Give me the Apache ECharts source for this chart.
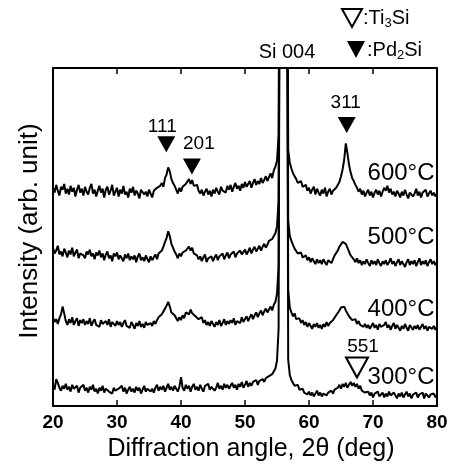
<!DOCTYPE html>
<html><head><meta charset="utf-8">
<script src="https://cdn.jsdelivr.net/npm/echarts@6/dist/echarts.min.js"></script>
<style>html,body{margin:0;padding:0;background:#fff}#c{width:454px;height:467px}</style>
</head><body><div id="c"></div>
<script>
// diffraction angle (deg)
const angle = [
20,20.25,20.5,20.75,21,21.25,21.5,21.75,22,22.25,
22.5,22.75,23,23.25,23.5,23.75,24,24.25,24.5,24.75,
25,25.25,25.5,25.75,26,26.25,26.5,26.75,27,27.25,
27.5,27.75,28,28.25,28.5,28.75,29,29.25,29.5,29.75,
30,30.25,30.5,30.75,31,31.25,31.5,31.75,32,32.25,
32.5,32.75,33,33.25,33.5,33.75,34,34.25,34.5,34.75,
35,35.25,35.5,35.75,36,36.25,36.5,36.75,37,37.25,
37.5,37.75,38,38.25,38.5,38.75,39,39.25,39.5,39.75,
40,40.25,40.5,40.75,41,41.25,41.5,41.75,42,42.25,
42.5,42.75,43,43.25,43.5,43.75,44,44.25,44.5,44.75,
45,45.25,45.5,45.75,46,46.25,46.5,46.75,47,47.25,
47.5,47.75,48,48.25,48.5,48.75,49,49.25,49.5,49.75,
50,50.25,50.5,50.75,51,51.25,51.5,51.75,52,52.25,
52.5,52.75,53,53.25,53.5,53.75,54,54.25,54.5,54.75,
55,
55.25,55.5,56,56.5,56.75,
57,57.25,57.5,57.75,58,58.25,58.5,58.75,59,59.25,
59.5,59.75,60,60.25,60.5,60.75,61,61.25,61.5,61.75,
62,62.25,62.5,62.75,63,63.25,63.5,63.75,64,64.25,
64.5,64.75,65,65.25,65.5,65.75,66,66.25,66.5,66.75,
67,67.25,67.5,67.75,68,68.25,68.5,68.75,69,69.25,
69.5,69.75,70,70.25,70.5,70.75,71,71.25,71.5,71.75,
72,72.25,72.5,72.75,73,73.25,73.5,73.75,74,74.25,
74.5,74.75,75,75.25,75.5,75.75,76,76.25,76.5,76.75,
77,77.25,77.5,77.75,78,78.25,78.5,78.75,79,79.25,
79.5,79.75,80];
// intensities (arb. unit, vertically offset traces)
const int600 = [
226,221,229,223,218,227,224,230,220,225,
219,228,222,226,217,224,229,221,225,218,
227,222,219,226,230,220,224,217,223,228,
221,225,216,224,227,219,223,229,218,222,
226,217,224,220,228,219,222,216,225,221,
227,218,223,220,215,224,226,219,222,217,
224,220,216,223,221,226,224,228,231,227,
236,240,247,243,235,231,228,224,220,226,
222,227,225,230,232,235,230,234,228,226,
229,223,220,224,218,222,225,219,223,217,
224,220,226,222,219,227,223,225,221,228,
224,229,222,227,231,225,228,223,230,226,
232,227,229,233,226,231,235,229,233,230,
236,231,234,238,233,237,241,236,244,248,
254,
280,700,1000,700,265,
252,246,241,238,235,231,229,233,227,225,
229,223,226,220,224,227,219,225,221,218,
224,220,226,217,222,225,219,223,221,226,
228,232,238,245,255,272,262,250,242,236,
233,229,226,222,225,219,223,217,221,224,
218,222,216,221,224,219,223,217,222,226,
223,228,221,225,219,222,217,223,220,216,
222,218,224,219,215,221,223,217,220,225,
218,222,216,221,219,224,217,220,223,218,
221,217,220];
const int500 = [
164,158,161,166,157,160,155,163,159,154,
161,157,164,155,159,162,153,158,160,156,
153,160,157,162,155,158,152,159,156,161,
154,158,151,157,160,153,156,150,158,155,
159,152,156,154,150,157,153,158,151,155,
152,156,149,155,158,151,154,150,156,152,
149,155,151,154,157,152,158,156,161,165,
170,174,181,176,168,164,160,157,153,158,
155,159,157,161,163,165,161,164,158,160,
156,152,155,150,154,157,149,153,151,155,
150,154,157,151,155,153,158,152,156,159,
153,157,155,160,154,158,156,161,157,159,
162,157,160,164,158,162,165,160,163,166,
161,165,168,164,167,171,169,173,176,179,
186,
212,700,1000,700,192,
176,171,167,163,161,158,156,159,154,152,
156,151,154,149,153,150,147,152,148,151,
147,152,149,146,151,153,148,152,156,158,
161,165,167,170,172,168,164,160,156,154,
152,149,153,148,151,146,150,147,152,148,
145,151,147,150,146,152,148,145,150,147,
151,146,149,153,147,150,145,149,152,146,
150,147,144,149,152,146,150,147,151,145,
149,153,146,150,147,151,145,149,152,147,
150,146,149];
const int400 = [
92,87,90,85,91,95,103,96,88,84,
90,86,92,84,88,91,83,89,86,90,
84,88,85,91,83,87,90,84,86,82,
89,85,83,88,84,90,82,87,85,83,
88,84,87,82,86,89,83,85,81,87,
84,80,86,83,88,82,85,81,87,84,
82,86,83,88,85,89,92,90,95,98,
101,104,108,103,97,99,94,91,88,92,
89,94,91,97,99,95,100,96,98,93,
95,90,88,92,86,89,84,87,83,88,
85,82,87,84,89,83,86,90,84,88,
85,89,86,91,84,88,90,86,92,87,
89,93,88,92,95,90,94,97,92,96,
99,94,98,101,97,100,103,99,105,108,
116,
145,700,1000,700,120,
102,97,93,96,90,88,91,86,89,84,
87,82,86,83,80,85,82,86,81,84,
80,85,82,87,83,86,84,89,91,94,
96,99,102,104,103,99,96,93,91,89,
87,90,85,88,84,86,82,85,81,84,
80,83,86,81,84,79,85,82,80,84,
87,81,84,79,83,86,80,84,81,78,
83,80,85,81,78,84,82,79,83,80,
84,79,82,85,80,83,78,82,84,80,
83,79,82];
const int300 = [
22,17,28,24,19,16,21,18,23,17,
20,15,22,18,16,21,14,19,17,22,
16,19,14,20,17,22,15,18,13,19,
16,21,14,18,20,15,17,13,19,16,
14,18,16,21,15,19,13,17,20,15,
18,14,20,16,19,13,17,21,15,18,
20,15,18,14,19,22,16,20,17,21,
15,19,23,17,20,16,21,18,15,20,
30,19,16,22,18,21,15,20,23,17,
20,16,22,18,15,21,19,23,17,20,
22,16,19,24,18,21,17,23,19,22,
18,21,24,19,22,17,23,20,25,19,
22,26,20,24,21,25,23,27,22,26,
24,28,25,29,27,31,29,33,35,39,
47,
80,700,1000,700,48,
32,27,24,21,19,22,17,15,18,14,
16,12,15,11,14,10,13,16,11,14,
10,13,15,11,14,12,16,13,17,15,
19,22,18,23,20,24,19,22,25,21,
24,20,23,18,21,16,18,14,12,15,
11,14,9,13,11,15,10,12,14,9,
13,10,15,11,9,14,12,8,13,10,
14,9,12,15,10,13,8,12,11,14,
9,12,10,14,8,13,11,9,12,10,
13,9,12];
const tempLabels = ['600°C','500°C','400°C','300°C'];
const tempLabelY = [241,175,100,30];
const peakHkl = ['111','201','311','551'];
const peakAngle = [37.7,41.7,65.9,67.5];
const peakMarkY = [271,248,291,40];
const peakPhase = ['Pd2Si','Pd2Si','Pd2Si','Ti3Si'];
const xTicks = [20,30,40,50,60,70,80];

const FONT = '"Liberation Sans", Arial, Helvetica, sans-serif';
const chart = echarts.init(document.getElementById('c'), null, {renderer:'canvas'});
const mk = arr => angle.map((x,i)=>[x, arr[i]]);
const lineS = arr => ({type:'line', data:mk(arr), showSymbol:false, symbol:'none',
  lineStyle:{color:'#000', width:2}, clip:true, animation:false, z:2});
const labelOffsets = [[-4,0],[7,0],[-1,0],[6,0]];
const labelDist = [0,5,5,0];
const peakData = peakAngle.map((x,i)=>{
  const open = peakPhase[i]==='Ti3Si';
  return {value:[x, peakMarkY[i]],
    symbolSize: open?[22,20]:[18,16],
    itemStyle: open?{color:'#fff', borderColor:'#000', borderWidth:2, opacity:1}:{color:'#000', opacity:1},
    label:{show:true, formatter:peakHkl[i], position:'top', distance:labelDist[i], offset:labelOffsets[i],
      color:'#000', opacity:1, fontSize:19, fontFamily:FONT}};
});
const tempData = tempLabels.map((t,i)=>({value:[80, tempLabelY[i]],
  label:{show:true, formatter:t, position:'left', distance:2, color:'#000', opacity:1, fontSize:24, fontFamily:FONT}}));

chart.setOption({
  animation:false,
  backgroundColor:'#fff',
  grid:{left:53, right:17, top:68, bottom:49, containLabel:false},
  xAxis:[{type:'value', min:20, max:80, interval:10, position:'bottom',
    axisLine:{show:true, onZero:false, lineStyle:{color:'#000', width:2}},
    axisTick:{show:true, inside:true, length:6, lineStyle:{color:'#000', width:1.5}},
    axisLabel:{show:true, color:'#000', fontSize:19, fontWeight:'bold', fontFamily:FONT, margin:7,
      formatter:v=>xTicks.includes(v)?String(v):''},
    splitLine:{show:false},
    name:'Diffraction angle, 2θ (deg)', nameLocation:'middle', nameGap:14,
    nameTextStyle:{color:'#000', fontSize:25, fontFamily:FONT, padding:[0,0,0,12]}},
   {type:'value', min:20, max:80, interval:10, position:'top',
    axisLine:{show:true, onZero:false, lineStyle:{color:'#000', width:2}},
    axisTick:{show:true, inside:true, length:6, lineStyle:{color:'#000', width:1.5}},
    axisLabel:{show:false}, splitLine:{show:false}}],
  yAxis:[{type:'value', min:0, max:350, position:'left',
    axisLine:{show:true, onZero:false, lineStyle:{color:'#000', width:2}},
    axisTick:{show:false}, axisLabel:{show:false}, splitLine:{show:false}},
   {type:'value', min:0, max:350, position:'right',
    axisLine:{show:true, onZero:false, lineStyle:{color:'#000', width:2}},
    axisTick:{show:false}, axisLabel:{show:false}, splitLine:{show:false}}],
  series:[lineS(int600), lineS(int500), lineS(int400), lineS(int300),
    {type:'scatter', symbol:'triangle', symbolRotate:180, data:peakData, z:5, clip:false,
      itemStyle:{opacity:1}, emphasis:{disabled:true}},
    {type:'scatter', symbolSize:1, data:tempData, z:5, clip:false,
      itemStyle:{color:'rgba(0,0,0,0)'}, emphasis:{disabled:true}}],
  graphic:[
    {type:'text', x:30, y:231, rotation:Math.PI/2,
      style:{text:'Intensity (arb. unit)', fill:'#000', font:'26px '+FONT, textAlign:'center', textVerticalAlign:'middle'}},
    {type:'text', x:287, y:52,
      style:{text:'Si 004', fill:'#000', font:'20px '+FONT, textAlign:'center', textVerticalAlign:'middle'}},
    {type:'polygon', shape:{points:[[342,9],[362,9],[352,27]]}, style:{fill:'#fff', stroke:'#000', lineWidth:2}},
    {type:'polygon', shape:{points:[[347,41],[365,41],[356,58]]}, style:{fill:'#000'}},
    {type:'text', x:363, y:18,
      style:{text:'{n|:Ti}{s|3}{n|Si}', textVerticalAlign:'middle', textAlign:'left',
        rich:{n:{fontSize:20, fontFamily:FONT, fill:'#000', lineHeight:24},
              s:{fontSize:13, fontFamily:FONT, fill:'#000', lineHeight:13, verticalAlign:'bottom'}}}},
    {type:'text', x:367, y:50,
      style:{text:'{n|:Pd}{s|2}{n|Si}', textVerticalAlign:'middle', textAlign:'left',
        rich:{n:{fontSize:20, fontFamily:FONT, fill:'#000', lineHeight:24},
              s:{fontSize:13, fontFamily:FONT, fill:'#000', lineHeight:13, verticalAlign:'bottom'}}}}
  ]
});
</script></body></html>
